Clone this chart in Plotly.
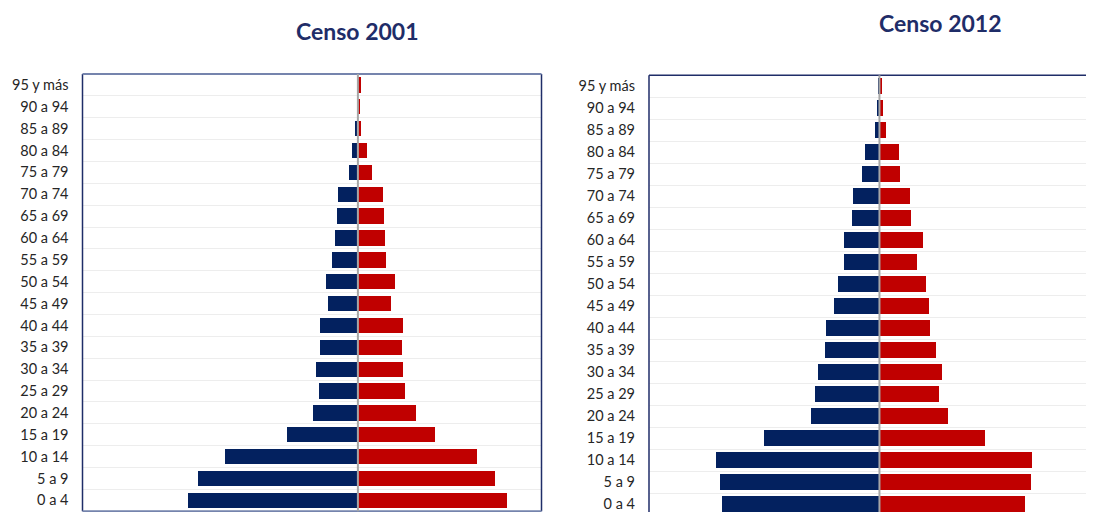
import plotly.graph_objects as go

# ---------------- data (percent of population) ----------------
age_groups = ["0 a 4", "5 a 9", "10 a 14", "15 a 19", "20 a 24", "25 a 29",
              "30 a 34", "35 a 39", "40 a 44", "45 a 49", "50 a 54", "55 a 59",
              "60 a 64", "65 a 69", "70 a 74", "75 a 79", "80 a 84", "85 a 89",
              "90 a 94", "95 y más"]

hombres_2001 = [9.29, 8.71, 7.25, 3.91, 2.46, 2.15, 2.31, 2.10, 2.10, 1.67,
                1.76, 1.44, 1.28, 1.16, 1.09, 0.50, 0.33, 0.16, 0.08, 0.08]
mujeres_2001 = [8.12, 7.43, 6.45, 4.19, 3.16, 2.52, 2.44, 2.38, 2.44, 1.80,
                1.98, 1.49, 1.44, 1.38, 1.34, 0.72, 0.47, 0.14, 0.08, 0.14]

hombres_2012 = [6.84, 6.90, 7.11, 5.02, 2.98, 2.81, 2.65, 2.36, 2.32, 1.98,
                1.82, 1.56, 1.56, 1.17, 1.15, 0.77, 0.61, 0.19, 0.12, 0.07]
mujeres_2012 = [6.33, 6.59, 6.64, 4.56, 2.99, 2.60, 2.73, 2.47, 2.21, 2.14,
                2.04, 1.65, 1.91, 1.39, 1.34, 0.90, 0.85, 0.30, 0.15, 0.09]

titles = ["Censo 2001", "Censo 2012"]

# ---------------- styling ----------------
# the page body adds an 8px margin, so the figure is sized to fit the window
OFF = 8
W, H = 1094 - OFF, 512 - OFF
BLUE = "#03215F"
RED = "#C00000"
NAVY = "#1F2D68"
SLATE = "#7584AD"
GRID = "#EDEDED"
ZERO = "#A6A6A6"
LABEL_FONT = dict(family="Lato, Carlito, Calibri, sans-serif", size=14.5, color="#262626")
TITLE_FONT = dict(family="Lato, sans-serif", size=23, color=NAVY, weight="bold")

idx = list(range(len(age_groups)))

def px_x(v):
    return (v - OFF) / W

def px_y(v):
    return (H - (v - OFF)) / H

fig = go.Figure()

def add_pyramid(men, women, xa, ya):
    fig.add_trace(go.Bar(
        y=idx, x=[-v for v in men], orientation="h", width=0.7,
        marker=dict(color=BLUE, line=dict(width=0)), xaxis=xa, yaxis=ya,
        name="Hombres", showlegend=False,
        customdata=men, hovertemplate="Hombres: %{customdata}%<extra></extra>"))
    fig.add_trace(go.Bar(
        y=idx, x=women, orientation="h", width=0.7,
        marker=dict(color=RED, line=dict(width=0)), xaxis=xa, yaxis=ya,
        name="Mujeres", showlegend=False,
        hovertemplate="Mujeres: %{x}%<extra></extra>"))

add_pyramid(hombres_2001, mujeres_2001, "x", "y")
add_pyramid(hombres_2012, mujeres_2012, "x2", "y2")

def yaxis_cfg(domain, rng, anchor):
    return dict(
        domain=domain, range=rng, anchor=anchor,
        tickmode="array", tickvals=idx, ticktext=age_groups,
        tickfont=LABEL_FONT, showgrid=False, zeroline=False, showline=False,
        ticks="", ticklabelstandoff=13, ticklabeloverflow="allow", fixedrange=True,
        minor=dict(tickmode="array", tickvals=[i + 0.5 for i in range(-1, len(idx))],
                   showgrid=True, gridcolor=GRID, gridwidth=1, ticks=""),
    )

def xaxis_cfg(domain, rng, anchor):
    return dict(domain=domain, range=rng, anchor=anchor, showticklabels=False,
                showgrid=False, zeroline=False, showline=False, ticks="",
                fixedrange=True)

fig.update_layout(
    width=W, height=H,
    margin=dict(l=0, r=0, t=0, b=0),
    paper_bgcolor="white", plot_bgcolor="white",
    barmode="overlay", bargap=0,
    xaxis=xaxis_cfg([px_x(82.5), px_x(541.5)], [-15, 10], "y"),
    yaxis=yaxis_cfg([px_y(511.3), px_y(74)], [-0.5, 19.5], "x"),
    xaxis2=xaxis_cfg([px_x(649), 1.0], [-10, 9.31], "y2"),
    yaxis2=yaxis_cfg([0, px_y(75.3)], [-0.35, 19.5], "x2"),
    showlegend=False,
)

shapes = []
# frame of the 2001 chart
shapes += [
    dict(type="line", xref="x domain", yref="y domain", x0=0, x1=0, y0=0, y1=1,
         line=dict(color=NAVY, width=1.5)),
    dict(type="line", xref="x domain", yref="y domain", x0=1, x1=1, y0=0, y1=1,
         line=dict(color=NAVY, width=1.5)),
    dict(type="line", xref="x domain", yref="y domain", x0=0, x1=1, y0=1, y1=1,
         line=dict(color=SLATE, width=2)),
    dict(type="line", xref="x domain", yref="y domain", x0=0, x1=1, y0=0, y1=0,
         line=dict(color=SLATE, width=2)),
]
# frame of the 2012 chart (right and bottom sides fall outside the picture)
shapes += [
    dict(type="line", xref="x2 domain", yref="y2 domain", x0=0, x1=0, y0=0, y1=1,
         line=dict(color=NAVY, width=1.5)),
    dict(type="line", xref="x2 domain", yref="y2 domain", x0=0, x1=1, y0=1, y1=1,
         line=dict(color=NAVY, width=1.5)),
]
# central vertical axes
shapes += [
    dict(type="line", xref="x", yref="y domain", x0=0, x1=0, y0=0, y1=1,
         line=dict(color=ZERO, width=2), layer="above"),
    dict(type="line", xref="x2", yref="y2 domain", x0=0, x1=0, y0=0, y1=1,
         line=dict(color=ZERO, width=2), layer="above"),
]
fig.update_layout(shapes=shapes)

fig.add_annotation(text=titles[0], xref="paper", yref="paper",
                   x=px_x(357), y=px_y(31), xanchor="center", yanchor="middle",
                   showarrow=False, font=TITLE_FONT)
fig.add_annotation(text=titles[1], xref="paper", yref="paper",
                   x=px_x(940), y=px_y(23), xanchor="center", yanchor="middle",
                   showarrow=False, font=TITLE_FONT)

fig.write_html("out.html")
